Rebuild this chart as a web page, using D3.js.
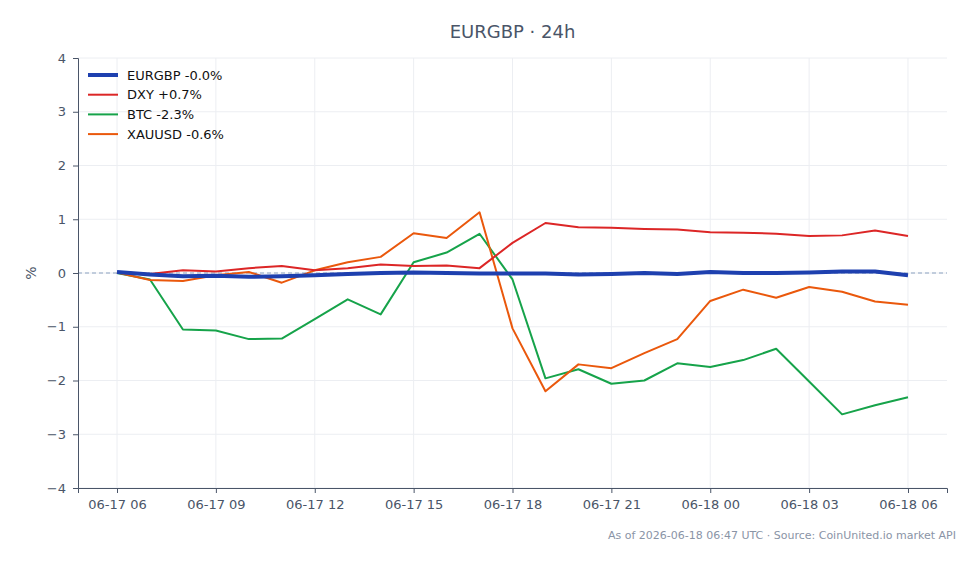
<!DOCTYPE html>
<html>
<head>
<meta charset="utf-8">
<script src="https://cdn.jsdelivr.net/npm/d3@7"></script>
<style>
  html, body { margin: 0; padding: 0; background: #fff; }
  svg { display: block; font-family: 'DejaVu Sans', sans-serif; }
</style>
</head>
<body>
<div id="chart"></div>
<script>
// hourly points, 2026-06-17 06:00 UTC .. 2026-06-18 06:00 UTC
const startTime = Date.UTC(2026, 5, 17, 6);
const hours = d3.range(25);

const eurgbp = [0.02, -0.03, -0.06, -0.05, -0.07, -0.06, -0.04, -0.02, 0.0, 0.01, 0.0, -0.01, -0.01,
                -0.01, -0.03, -0.02, 0.0, -0.02, 0.02, 0.0, 0.0, 0.01, 0.03, 0.03, -0.04];
const dxy = [0.02, -0.02, 0.05, 0.03, 0.09, 0.13, 0.05, 0.09, 0.16, 0.13, 0.14, 0.09, 0.56,
             0.93, 0.85, 0.84, 0.82, 0.81, 0.76, 0.75, 0.73, 0.69, 0.70, 0.79, 0.69];
const btc = [0.0, -0.12, -1.05, -1.07, -1.23, -1.22, -0.86, -0.49, -0.77, 0.2, 0.38, 0.73, -0.12,
             -1.96, -1.79, -2.06, -2.0, -1.68, -1.75, -1.62, -1.41, -2.02, -2.63, -2.46, -2.31];
const xauusd = [0.01, -0.13, -0.15, -0.04, 0.02, -0.18, 0.05, 0.2, 0.3, 0.74, 0.65, 1.13, -1.03,
                -2.2, -1.7, -1.77, -1.49, -1.23, -0.52, -0.31, -0.46, -0.26, -0.35, -0.53, -0.59];

const seriesNames = ['EURGBP -0.0%', 'DXY +0.7%', 'BTC -2.3%', 'XAUUSD -0.6%'];
const seriesColors = ['#1e40af', '#dc2626', '#16a34a', '#ea580c'];
const seriesWidths = [4, 2, 2, 2];
const seriesValues = [eurgbp, dxy, btc, xauusd];
const yTicks = [-4, -3, -2, -1, 0, 1, 2, 3, 4];

const width = 979, height = 564;
const margin = { top: 58, right: 32, bottom: 76, left: 78 };
const innerW = width - margin.left - margin.right;
const innerH = height - margin.top - margin.bottom;

const textColor = '#4a5568';
const gridColor = '#eceef2';

const svg = d3.select('#chart').append('svg').attr('width', width).attr('height', height);

const pad = 71 * 60 * 1000;
const x = d3.scaleUtc()
    .domain([new Date(startTime - pad), new Date(startTime + 24 * 3600 * 1000 + pad)])
    .range([margin.left, margin.left + innerW]);
const y = d3.scaleLinear().domain([-4, 4]).range([margin.top + innerH, margin.top]);

const xTicks = d3.range(0, 25, 3).map(h => new Date(startTime + h * 3600 * 1000));

// grid
const grid = svg.append('g');
grid.selectAll('.vg').data(xTicks).join('line')
    .attr('x1', d => x(d)).attr('x2', d => x(d))
    .attr('y1', margin.top).attr('y2', margin.top + innerH)
    .attr('stroke', gridColor).attr('stroke-width', 1);
grid.selectAll('.hg').data(yTicks).join('line')
    .attr('x1', margin.left).attr('x2', margin.left + innerW)
    .attr('y1', d => y(d)).attr('y2', d => y(d))
    .attr('stroke', gridColor).attr('stroke-width', 1);

// zero reference
svg.append('line')
    .attr('x1', margin.left).attr('x2', margin.left + innerW)
    .attr('y1', y(0)).attr('y2', y(0))
    .attr('stroke', '#8da2c0').attr('stroke-width', 1).attr('stroke-dasharray', '4,3');

// axes
const xAxis = svg.append('g')
    .attr('transform', `translate(0,${margin.top + innerH})`)
    .call(d3.axisBottom(x).tickValues(xTicks).tickFormat(d3.utcFormat('%m-%d %H'))
        .tickSizeOuter(0).tickSize(5).tickPadding(7));
const yAxis = svg.append('g')
    .attr('transform', `translate(${margin.left},0)`)
    .call(d3.axisLeft(y).tickValues(yTicks).tickFormat(d3.format('d'))
        .tickSizeOuter(0).tickSize(5).tickPadding(7));

[xAxis, yAxis].forEach(a => {
    a.select('.domain').attr('stroke', textColor);
    a.selectAll('.tick line').attr('stroke', textColor);
    a.selectAll('.tick text').attr('fill', textColor).attr('font-size', 13)
        .attr('font-family', "'DejaVu Sans', sans-serif");
});
yAxis.selectAll('.tick text').text(d => d < 0 ? '\u2212' + Math.abs(d) : d);

// lines
const line = d3.line()
    .x((d, i) => x(new Date(startTime + hours[i] * 3600 * 1000)))
    .y(d => y(d));

const order = [2, 3, 1, 0];
order.forEach(k => {
    svg.append('path')
        .datum(seriesValues[k])
        .attr('d', line)
        .attr('fill', 'none')
        .attr('stroke', seriesColors[k])
        .attr('stroke-width', seriesWidths[k])
        .attr('stroke-linejoin', 'round');
});

// legend
const legend = svg.append('g').attr('transform', 'translate(88,75)');
seriesNames.forEach((name, i) => {
    const row = legend.append('g').attr('transform', `translate(0,${i * 19.7})`);
    row.append('line').attr('x1', 0).attr('x2', 30).attr('y1', 0).attr('y2', 0)
        .attr('stroke', seriesColors[i]).attr('stroke-width', seriesWidths[i]);
    row.append('text').attr('x', 39).attr('y', 0).attr('dy', '0.35em')
        .attr('font-size', 13).attr('fill', '#111').text(name);
});

// title
svg.append('text')
    .attr('x', margin.left + innerW / 2).attr('y', 32).attr('dy', '0.35em')
    .attr('text-anchor', 'middle').attr('font-size', 18).attr('fill', textColor)
    .text('EURGBP \u00b7 24h');

// y label
svg.append('text')
    .attr('transform', `translate(31,${y(0)}) rotate(-90)`)
    .attr('text-anchor', 'middle').attr('dy', '0.35em')
    .attr('font-size', 14).attr('fill', textColor).text('%');

// footer
svg.append('text')
    .attr('x', 956).attr('y', 535).attr('dy', '0.35em')
    .attr('text-anchor', 'end').attr('font-size', 11).attr('fill', '#8a94a6')
    .text('As of 2026-06-18 06:47 UTC \u00b7 Source: CoinUnited.io market API');
</script>
</body>
</html>
